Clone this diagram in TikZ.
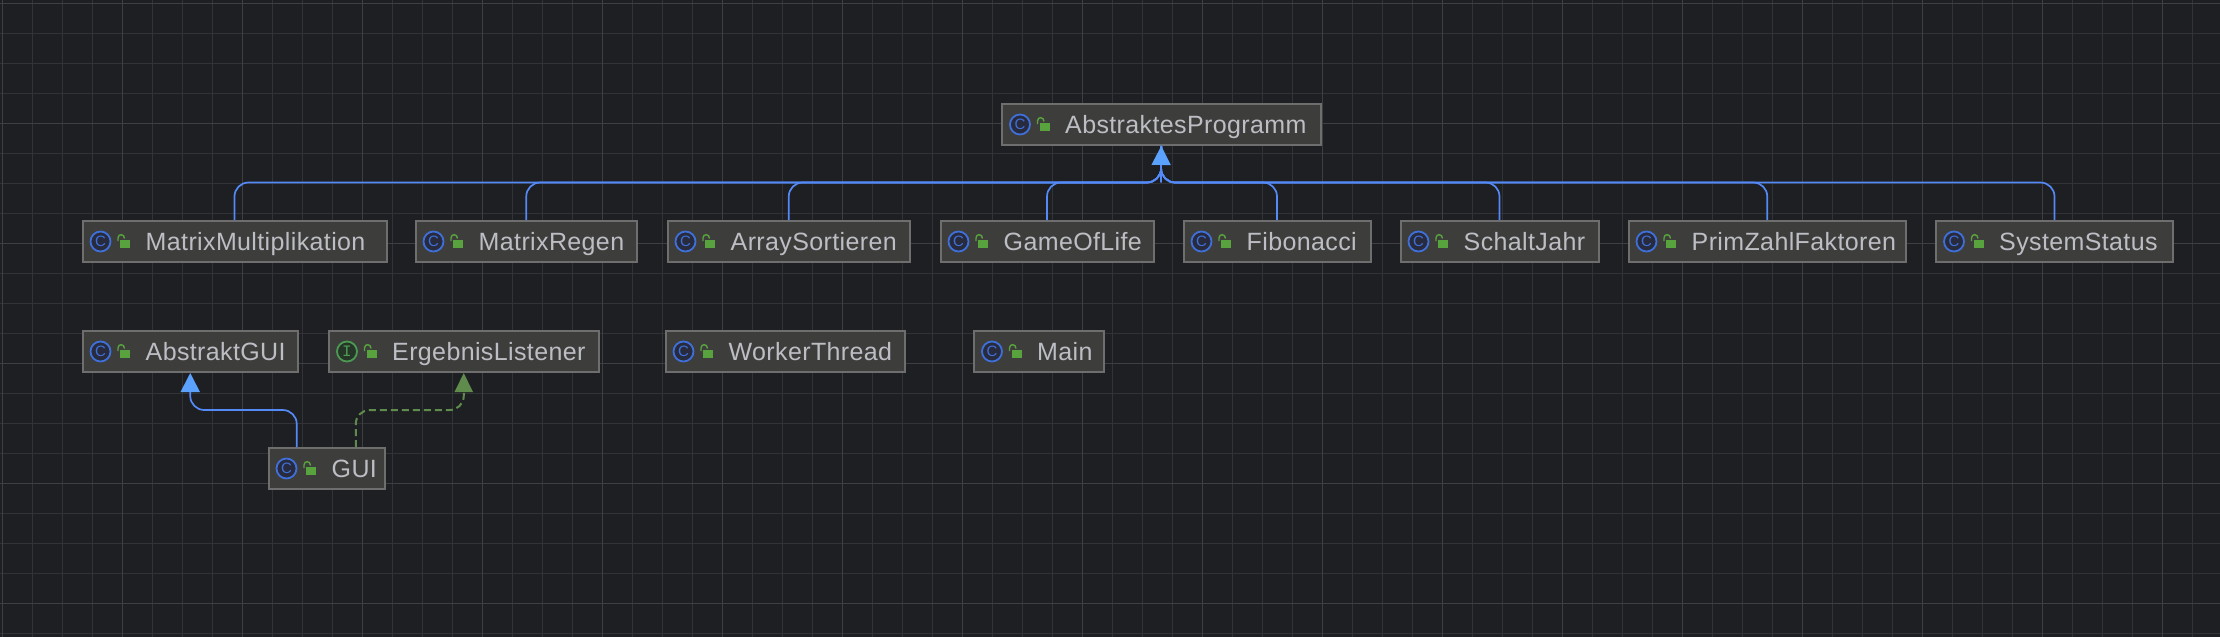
\documentclass[tikz,border=0pt]{standalone}
\usepackage{fontspec}
\setmainfont[LetterSpace=1.5]{Liberation Sans}
\setmonofont{Liberation Mono}
\usetikzlibrary{arrows.meta}
\definecolor{canvasbg}{HTML}{1E1F22}
\definecolor{gridfine}{HTML}{323336}
\definecolor{gridbold}{HTML}{3E3F42}
\definecolor{boxfill}{HTML}{3D3D3C}
\definecolor{boxline}{HTML}{6E6E6E}
\definecolor{labeltext}{HTML}{BCBEC4}
\definecolor{extendblue}{HTML}{548AF7}
\definecolor{tipblue}{HTML}{5BA2FF}
\definecolor{implgreen}{HTML}{5F8C4C}
\definecolor{lockgreen}{HTML}{59A33F}
\definecolor{classring}{HTML}{3F6FD8}
\definecolor{classcore}{HTML}{272B3D}
\definecolor{ifacering}{HTML}{4C9A52}
\definecolor{ifacecore}{HTML}{253527}
\tikzset{
	classbox/.style={draw=boxline,fill=boxfill,line width=2pt,minimum height=41pt,inner sep=0pt},
	classlabel/.style={anchor=base west,text=labeltext,inner sep=0pt,font=\fontsize{25}{30}\selectfont},
	classicon/.style={circle,draw=classring,fill=classcore,line width=1.8pt,minimum size=20pt,inner sep=0pt,
		text=classring,font=\fontsize{15}{17}\selectfont},
	ifaceicon/.style={circle,draw=ifacering,fill=ifacecore,line width=1.8pt,minimum size=20pt,inner sep=0pt,
		text=ifacering,font=\fontsize{16}{18}\ttfamily},
	extendsline/.style={draw=extendblue,line width=1.7pt,rounded corners=14pt},
	extendstip/.style={-{Triangle[width=19pt,length=19pt,color=tipblue]}},
	implline/.style={draw=implgreen,line width=2pt,dash pattern=on 7pt off 4pt,rounded corners=14pt,
		-{Triangle[width=18pt,length=19pt,color=implgreen]}},
}
% one box with its icon, lock and label: name, left, right, middle y, icon style, letter, text
\newcommand{\classnode}[7]{
	\node[classbox,minimum width=#3pt-#2pt] (#1) at ({(#2+#3)/2},#4) {};
	\node[#5] (#1icon) at ({#2+18},#4) {#6};
	\fill[lockgreen] ({#2+37.5},#4-1.5) rectangle ({#2+47.5},#4+6);
	\draw[lockgreen,line width=1.4pt] ({#2+35.5},#4-0.5) -- ({#2+35.5},#4-3.5)
		.. controls ({#2+35.5},#4-8) and ({#2+42},#4-8) .. ({#2+42},#4-3);
	\node[classlabel] (#1label) at ({#2+63},#4+8.5) {#7};
}
\begin{document}
\begin{tikzpicture}[x=1pt,y=-1pt]
	\useasboundingbox (0,0) rectangle (2220,637);
	\fill[canvasbg] (0,0) rectangle (2220,637);
	% grid
	\foreach \x in {0,...,73} {
		\draw[gridfine,line width=1pt] ({2.5+30*\x},0) -- ({2.5+30*\x},637);
	}
	\foreach \y in {0,...,21} {
		\draw[gridfine,line width=1pt] (0,{3+30*\y}) -- (2220,{3+30*\y});
	}
	\foreach \x in {0,...,18} {
		\draw[gridbold,line width=1pt] ({2.5+120*\x},0) -- ({2.5+120*\x},637);
	}
	\foreach \y in {0,...,5} {
		\draw[gridbold,line width=1pt] (0,{3+120*\y}) -- (2220,{3+120*\y});
	}
	% top class
	\classnode{abstraktesprogramm}{1002}{1320.5}{124.5}{classicon}{C}{AbstraktesProgramm}
	\coordinate (busend) at (1161,182.5);
	% first row
	\classnode{matrixmultiplikation}{82.5}{386.5}{241.5}{classicon}{C}{MatrixMultiplikation}
	\classnode{matrixregen}{415.5}{637}{241.5}{classicon}{C}{MatrixRegen}
	\classnode{arraysortieren}{667.5}{910}{241.5}{classicon}{C}{ArraySortieren}
	\classnode{gameoflife}{940.5}{1153.5}{241.5}{classicon}{C}{GameOfLife}
	\classnode{fibonacci}{1183.5}{1370.5}{241.5}{classicon}{C}{Fibonacci}
	\classnode{schaltjahr}{1400.5}{1598.5}{241.5}{classicon}{C}{SchaltJahr}
	\classnode{primzahlfaktoren}{1628.5}{1906}{241.5}{classicon}{C}{PrimZahlFaktoren}
	\classnode{systemstatus}{1936}{2173}{241.5}{classicon}{C}{SystemStatus}
	% second row
	\classnode{abstraktgui}{82.5}{298}{351.5}{classicon}{C}{AbstraktGUI}
	\classnode{ergebnislistener}{329}{598.5}{351.5}{ifaceicon}{I}{ErgebnisListener}
	\classnode{workerthread}{665.5}{905}{351.5}{classicon}{C}{WorkerThread}
	\classnode{main}{974}{1104}{351.5}{classicon}{C}{Main}
	% third row
	\classnode{gui}{268.5}{385}{468.5}{classicon}{C}{GUI}
	% the inheritance lines
	\foreach \child in {matrixmultiplikation,matrixregen,arraysortieren,gameoflife,fibonacci,schaltjahr,primzahlfaktoren,systemstatus} {
		\draw[extendsline] (\child.north) |- (busend) [rounded corners=8pt] -- (abstraktesprogramm.south);
	}
	\draw[extendstip,draw=extendblue,line width=1.7pt] (busend) -- (abstraktesprogramm.south);
	\draw[extendsline,extendstip] ([xshift=-30pt]gui.north) |- ([yshift=-37pt]abstraktgui.south) -- (abstraktgui.south);
	\draw[implline] ([xshift=29pt]gui.north) |- ([yshift=-37pt]ergebnislistener.south) -- (ergebnislistener.south);
\end{tikzpicture}
\end{document}
